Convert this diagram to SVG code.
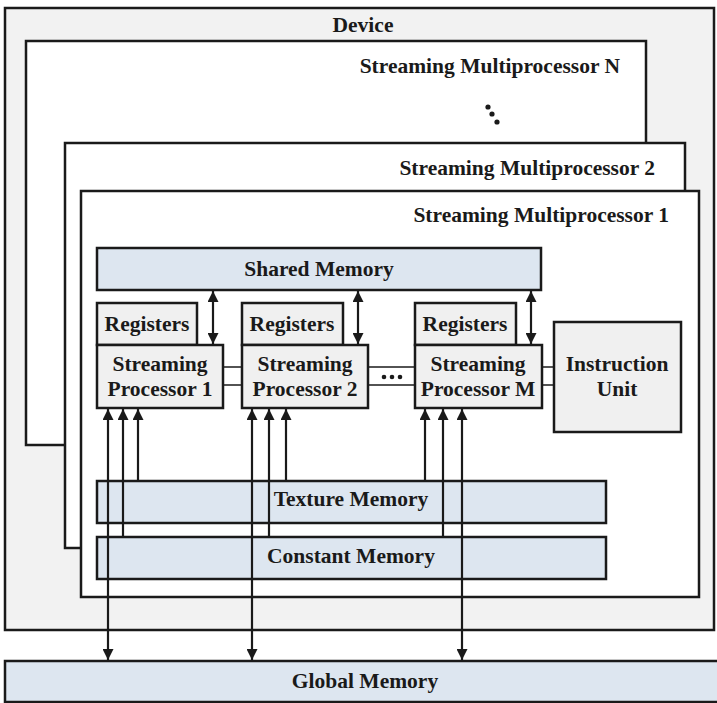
<svg xmlns="http://www.w3.org/2000/svg" width="717" height="703" viewBox="0 0 717 703">
<defs>
<style>
text{font-family:"Liberation Serif","Times New Roman",serif;font-weight:bold;font-size:21.5px;fill:#1a1a1a}
.c{text-anchor:middle}
.e{text-anchor:end}
.dev{fill:#f2f2f2;stroke:#1a1a1a;stroke-width:2.5}
.sm{fill:#ffffff;stroke:#1a1a1a;stroke-width:2.5}
.mem{fill:#dde6f0;stroke:#1a1a1a;stroke-width:2.5}
.box{fill:#f0f0f0;stroke:#1a1a1a;stroke-width:2.5}
.ln{stroke:#1a1a1a;stroke-width:2.2;fill:none}
.thin{stroke:#1a1a1a;stroke-width:1.5;fill:none}
</style>
<marker id="ah" viewBox="0 0 10 10" refX="10" refY="5" markerWidth="5" markerHeight="5" orient="auto-start-reverse" markerUnits="strokeWidth">
<path d="M0,0 L10,5 L0,10 z" fill="#1a1a1a"/>
</marker>
</defs>
<rect width="717" height="703" fill="#ffffff"/>
<g id="device">
<rect class="dev" x="5" y="8" width="709" height="622"/>
<text class="c" x="363" y="32">Device</text>
</g>
<g id="smN">
<rect class="sm" x="26" y="41" width="620" height="404"/>
<text class="e" x="620" y="73">Streaming Multiprocessor N</text>
<circle cx="488" cy="107" r="2.6" fill="#1a1a1a"/>
<circle cx="492" cy="114" r="2.6" fill="#1a1a1a"/>
<circle cx="497" cy="122" r="2.6" fill="#1a1a1a"/>
</g>
<g id="sm2">
<rect class="sm" x="65" y="143" width="620" height="405"/>
<text class="e" x="655" y="175">Streaming Multiprocessor 2</text>
</g>
<g id="sm1">
<rect class="sm" x="81" y="191" width="618" height="406"/>
<text class="e" x="669" y="222">Streaming Multiprocessor 1</text>
</g>
<g id="shared">
<rect class="mem" x="97" y="248" width="444" height="42"/>
<text class="c" x="319" y="276">Shared Memory</text>
</g>
<g id="reg1">
<rect class="box" x="97" y="303" width="100" height="42"/>
<text class="c" x="147" y="331">Registers</text>
</g>
<g id="sp1">
<rect class="box" x="97" y="345" width="126" height="63"/>
<text class="c" x="160" y="371">Streaming</text>
<text class="c" x="160" y="396">Processor 1</text>
</g>
<g id="reg2">
<rect class="box" x="242" y="303" width="101" height="42"/>
<text class="c" x="292" y="331">Registers</text>
</g>
<g id="sp2">
<rect class="box" x="242" y="345" width="126" height="63"/>
<text class="c" x="305" y="371">Streaming</text>
<text class="c" x="305" y="396">Processor 2</text>
</g>
<g id="regM">
<rect class="box" x="415" y="303" width="101" height="42"/>
<text class="c" x="465" y="331">Registers</text>
</g>
<g id="spM">
<rect class="box" x="415" y="345" width="127" height="63"/>
<text class="c" x="478" y="371">Streaming</text>
<text class="c" x="478" y="396">Processor M</text>
</g>
<g id="instr">
<rect class="box" x="554" y="322" width="127" height="110"/>
<text class="c" x="617" y="371">Instruction</text>
<text class="c" x="617" y="396">Unit</text>
</g>
<g id="texture">
<rect class="mem" x="97" y="481" width="509" height="42"/>
<text class="c" x="351" y="506">Texture Memory</text>
</g>
<g id="constant">
<rect class="mem" x="97" y="537" width="509" height="42"/>
<text class="c" x="351" y="563">Constant Memory</text>
</g>
<g id="global">
<rect class="mem" x="5" y="661" width="720" height="41"/>
<text class="c" x="365" y="688">Global Memory</text>
</g>
<g id="connectors">
<line class="ln" x1="213" y1="291" x2="213" y2="344" marker-start="url(#ah)" marker-end="url(#ah)"/>
<line class="ln" x1="358" y1="291" x2="358" y2="344" marker-start="url(#ah)" marker-end="url(#ah)"/>
<line class="ln" x1="531" y1="291" x2="531" y2="344" marker-start="url(#ah)" marker-end="url(#ah)"/>
<line class="thin" x1="223" y1="367" x2="242" y2="367"/>
<line class="thin" x1="223" y1="385" x2="242" y2="385"/>
<line class="thin" x1="368" y1="367" x2="415" y2="367"/>
<line class="thin" x1="368" y1="385" x2="415" y2="385"/>
<line class="thin" x1="542" y1="367" x2="554" y2="367"/>
<line class="thin" x1="542" y1="385" x2="554" y2="385"/>
<circle cx="384" cy="377" r="2.3" fill="#1a1a1a"/>
<circle cx="392" cy="377" r="2.3" fill="#1a1a1a"/>
<circle cx="400" cy="377" r="2.3" fill="#1a1a1a"/>
<line class="ln" x1="108" y1="409" x2="108" y2="660" marker-start="url(#ah)" marker-end="url(#ah)"/>
<line class="ln" x1="123" y1="537" x2="123" y2="409" marker-end="url(#ah)"/>
<line class="ln" x1="138" y1="481" x2="138" y2="409" marker-end="url(#ah)"/>
<line class="ln" x1="252" y1="409" x2="252" y2="660" marker-start="url(#ah)" marker-end="url(#ah)"/>
<line class="ln" x1="269" y1="537" x2="269" y2="409" marker-end="url(#ah)"/>
<line class="ln" x1="286" y1="481" x2="286" y2="409" marker-end="url(#ah)"/>
<line class="ln" x1="425" y1="481" x2="425" y2="409" marker-end="url(#ah)"/>
<line class="ln" x1="443" y1="537" x2="443" y2="409" marker-end="url(#ah)"/>
<line class="ln" x1="462" y1="409" x2="462" y2="660" marker-start="url(#ah)" marker-end="url(#ah)"/>
</g>
</svg>
